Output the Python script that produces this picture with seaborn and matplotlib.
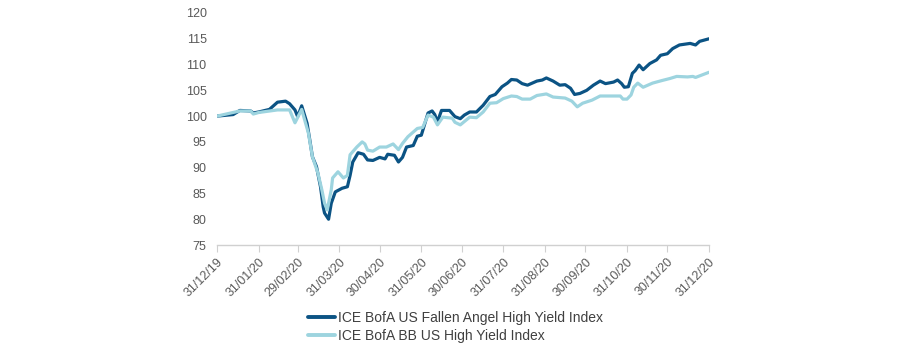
import matplotlib
matplotlib.use("Agg")
import matplotlib.pyplot as plt
import seaborn as sns
import pandas as pd

# ---- data (days since 31/12/2019, index level) ----
fa_days = [0, 12, 17, 25, 27, 31, 39, 45, 51, 54, 58, 60, 63, 67, 69, 71, 74, 77, 79, 80,
           83, 85, 88, 93, 97, 99, 101, 105, 109, 112, 116, 121, 125, 127, 132, 135, 138,
           141, 146, 149, 152, 155, 157, 160, 162, 164, 167, 173, 177, 181, 184, 188, 193,
           198, 203, 207, 212, 216, 219, 223, 227, 231, 238, 242, 245, 250, 255, 259, 263,
           266, 270, 275, 280, 285, 289, 295, 298, 301, 303, 306, 309, 311, 314, 317, 322,
           327, 330, 335, 339, 344, 352, 356, 359, 366]
fa_vals = [100.0, 100.3, 101.1, 101.0, 100.6, 100.8, 101.3, 102.7, 102.9, 102.4, 101.2, 99.9,
           102.0, 98.6, 95.4, 92.1, 90.2, 86.3, 82.4, 81.2, 80.0, 83.1, 85.3, 86.0, 86.3, 88.5,
           91.1, 92.9, 92.6, 91.5, 91.4, 92.0, 91.7, 92.6, 92.4, 91.1, 92.0, 94.0, 94.3, 96.1,
           96.3, 98.9, 100.6, 101.0, 100.3, 98.9, 101.1, 101.1, 99.9, 99.5, 100.2, 100.8, 100.8,
           102.1, 103.8, 104.2, 105.7, 106.4, 107.1, 107.0, 106.3, 106.0, 106.8, 107.0, 107.4,
           106.8, 106.0, 106.1, 105.4, 104.2, 104.4, 105.0, 106.0, 106.8, 106.3, 106.6, 107.0,
           106.3, 105.6, 105.7, 108.3, 108.8, 109.9, 109.0, 110.2, 110.9, 111.8, 112.1, 113.1,
           113.8, 114.1, 113.8, 114.5, 115.0]

bb_days = [0, 17, 25, 27, 31, 45, 54, 58, 63, 68, 71, 75, 78, 80, 82, 85, 86, 90, 94, 97,
           99, 104, 108, 110, 112, 116, 121, 126, 131, 135, 138, 142, 149, 153, 157, 161, 164,
           168, 175, 177, 181, 188, 193, 198, 203, 208, 213, 219, 223, 227, 233, 238, 245, 250,
           259, 264, 268, 272, 279, 285, 292, 300, 302, 305, 308, 310, 313, 317, 324, 331, 337,
           342, 350, 354, 356, 362, 366]
bb_vals = [100.0, 101.0, 101.0, 100.4, 100.7, 101.2, 101.2, 98.7, 101.3, 96.7, 92.1, 89.0,
           85.7, 83.1, 81.8, 85.7, 88.0, 89.2, 88.0, 88.5, 92.5, 94.0, 95.0, 94.6, 93.4, 93.2,
           94.0, 94.0, 94.6, 93.5, 94.7, 96.0, 97.6, 97.8, 100.2, 99.8, 98.3, 99.8, 99.6, 98.8,
           98.3, 99.8, 99.7, 100.8, 102.5, 102.6, 103.4, 103.9, 103.8, 103.3, 103.3, 104.0,
           104.3, 103.7, 103.5, 102.9, 101.8, 102.5, 103.1, 103.9, 103.9, 103.9, 103.3, 103.3,
           104.1, 105.6, 106.4, 105.6, 106.4, 106.9, 107.3, 107.7, 107.6, 107.7, 107.5, 108.1,
           108.5]

series_names = ["ICE BofA US Fallen Angel High Yield Index",
                "ICE BofA BB US High Yield Index"]
colors = ["#0B5384", "#9DD4DF"]

tick_dates = ["2019-12-31", "2020-01-31", "2020-02-29", "2020-03-31", "2020-04-30",
              "2020-05-31", "2020-06-30", "2020-07-31", "2020-08-31", "2020-09-30",
              "2020-10-31", "2020-11-30", "2020-12-31"]
y_ticks = [75, 80, 85, 90, 95, 100, 105, 110, 115, 120]

start = pd.Timestamp("2019-12-31")
df = pd.concat([
    pd.DataFrame({"date": start + pd.to_timedelta(fa_days, unit="D"),
                  "value": fa_vals, "series": series_names[0]}),
    pd.DataFrame({"date": start + pd.to_timedelta(bb_days, unit="D"),
                  "value": bb_vals, "series": series_names[1]}),
], ignore_index=True)

sns.set_style("white")
plt.rcParams["font.family"] = ["Liberation Sans", "DejaVu Sans"]

fig = plt.figure(figsize=(9, 3.53), dpi=100)
ax = fig.add_axes([217/900, 1-245/353, (709-217)/900, (245-13)/353])

sns.lineplot(data=df, x="date", y="value", hue="series", hue_order=series_names,
             palette=colors, linewidth=2.3, ax=ax, legend=True)

ax.set_xlim(pd.Timestamp(tick_dates[0]), pd.Timestamp(tick_dates[-1]))
ax.set_ylim(75, 120)
ax.set_yticks(y_ticks)
ax.set_yticklabels([str(v) for v in y_ticks])
ticks = [pd.Timestamp(d) for d in tick_dates]
ax.set_xticks(ticks)
ax.set_xticklabels([t.strftime("%d/%m/%y") for t in ticks], rotation=45,
                   ha="right", rotation_mode="anchor")
ax.set_xlabel("")
ax.set_ylabel("")

for s in ["top", "right", "left"]:
    ax.spines[s].set_visible(False)
ax.spines["bottom"].set_color("#D0D0D0")
ax.spines["bottom"].set_linewidth(1.0)
ax.tick_params(axis="x", which="both", bottom=True, length=5, color="#D0D0D0",
               labelsize=9, labelcolor="#595959", pad=3)
ax.tick_params(axis="y", left=False, labelsize=9, labelcolor="#595959", pad=4)

leg = ax.legend(loc="upper left", bbox_to_anchor=(308/900, 1-311/353),
                bbox_transform=fig.transFigure, frameon=False, fontsize=10,
                handlelength=1.95, handletextpad=0.2, labelspacing=0.3,
                borderaxespad=0, borderpad=0)
for t in leg.get_texts():
    t.set_color("#404040")
for line in leg.get_lines():
    line.set_linewidth(2.8)

fig.savefig("out.png", dpi=100)
